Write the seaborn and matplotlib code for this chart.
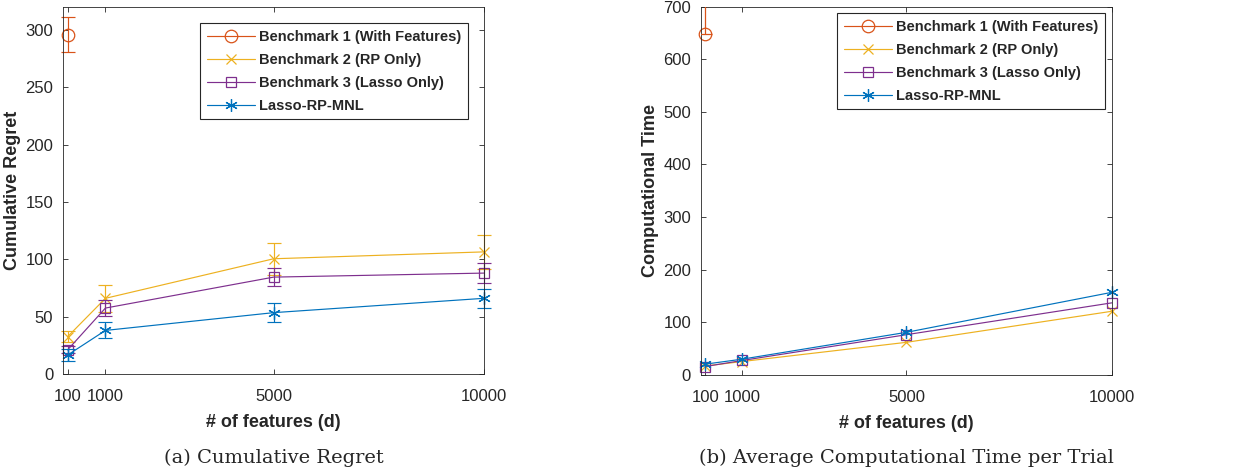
import numpy as np
import matplotlib
matplotlib.use("Agg")
import matplotlib.pyplot as plt
import seaborn as sns
import pandas as pd

# x values (number of features)
d_values = [100, 1000, 5000, 10000]

# (a) cumulative regret, mean and half-width of error bar
regret_b1 = [296]
regret_b1_err = [15.5]
regret_b2 = [32.5, 66, 100.5, 106.5]
regret_b2_err = [5, 12, 14, 15]
regret_b3 = [21, 57.5, 84.5, 88]
regret_b3_err = [3, 7, 8, 8.5]
regret_lrm = [16.5, 38, 53.5, 66]
regret_lrm_err = [5, 7, 8, 8.5]

# (b) average computational time per trial
time_b1 = [648]
time_b1_err_up = [70]
time_b2 = [17, 25.5, 62, 121]
time_b3 = [16, 27.5, 76.5, 137]
time_lrm = [20.5, 30, 81, 157]

series_names = ["Benchmark 1 (With Features)", "Benchmark 2 (RP Only)",
                "Benchmark 3 (Lasso Only)", "Lasso-RP-MNL"]
colors = ["#D95319", "#EDB120", "#7E2F8E", "#0072BD"]
markers = ["o", "x", "s", (6, 2, 0)]
msizes = [9, 7, 7.5, 9]

sns.set_style("ticks")
plt.rcParams['font.family'] = ['Liberation Sans', 'DejaVu Sans']
TXT = "#262626"

fig = plt.figure(figsize=(12.37, 4.74), dpi=100)
ax1 = fig.add_axes([0.0509, 0.211, 0.3403, 0.774])
ax2 = fig.add_axes([0.5665, 0.209, 0.3323, 0.777])


def draw_series(ax, x, y, name, color, marker, ms):
    df = pd.DataFrame({"d": x, "val": y})
    sns.lineplot(data=df, x="d", y="val", ax=ax, color=color, marker=marker,
                 markersize=ms, markerfacecolor="none", markeredgecolor=color,
                 markeredgewidth=0.9, linewidth=0.85, label=name, clip_on=False)


# --- left panel
regret_means = [regret_b1, regret_b2, regret_b3, regret_lrm]
regret_errs = [regret_b1_err, regret_b2_err, regret_b3_err, regret_lrm_err]
for i in range(4):
    x = d_values[:len(regret_means[i])]
    eb = ax1.errorbar(x, regret_means[i], yerr=regret_errs[i], fmt="none",
                      ecolor=colors[i], elinewidth=0.85, capsize=5, capthick=0.85)
    for art in eb.lines[1] + eb.lines[2]:
        art.set_clip_on(False)
    draw_series(ax1, x, regret_means[i], series_names[i], colors[i], markers[i], msizes[i])

ax1.set_ylim(0, 320)
ax1.set_yticks(np.arange(0, 301, 50))
ax1.set_ylabel("Cumulative Regret", fontsize=13, fontweight="bold", color=TXT, labelpad=3)

# --- right panel
time_means = [time_b1, time_b2, time_b3, time_lrm]
ax2.errorbar(d_values[:1], time_b1, yerr=[[0], time_b1_err_up], fmt="none",
             ecolor=colors[0], elinewidth=0.9, capsize=5, capthick=0.9, zorder=5)
for i in range(4):
    x = d_values[:len(time_means[i])]
    draw_series(ax2, x, time_means[i], series_names[i], colors[i], markers[i], msizes[i])

ax2.set_ylim(0, 700)
ax2.set_yticks(np.arange(0, 701, 100))
ax2.set_ylabel("Computational Time", fontsize=13, fontweight="bold", color=TXT, labelpad=3)

for ax, pad in ((ax1, 1.1), (ax2, 0.45)):
    ax.set_xlim(-10, 10000)
    ax.set_xticks(d_values)
    ax.set_xlabel("# of features (d)", fontsize=13, fontweight="bold", color=TXT, labelpad=7)
    ax.tick_params(direction="in", top=True, right=True, labelsize=12,
                   colors=TXT, length=3.5, width=0.6)
    ax.tick_params(axis="x", pad=11)
    ax.tick_params(axis="y", pad=7)
    for s in ax.spines.values():
        s.set_color(TXT)
        s.set_linewidth(0.6)
    leg = ax.legend(loc="upper right", fancybox=False, framealpha=1,
                    edgecolor=TXT, handlelength=3.3, handletextpad=0.3,
                    borderpad=0.45, labelspacing=0.62, borderaxespad=pad,
                    prop={"weight": "bold", "size": 10.5})
    leg.get_frame().set_linewidth(0.8)

fig.text(0.2211, 0.033, "(a) Cumulative Regret", ha="center", va="center",
         fontsize=14, family="DejaVu Serif")
fig.text(0.7326, 0.033, "(b) Average Computational Time per Trial", ha="center",
         va="center", fontsize=14, family="DejaVu Serif")

fig.savefig("out.png", dpi=100)
